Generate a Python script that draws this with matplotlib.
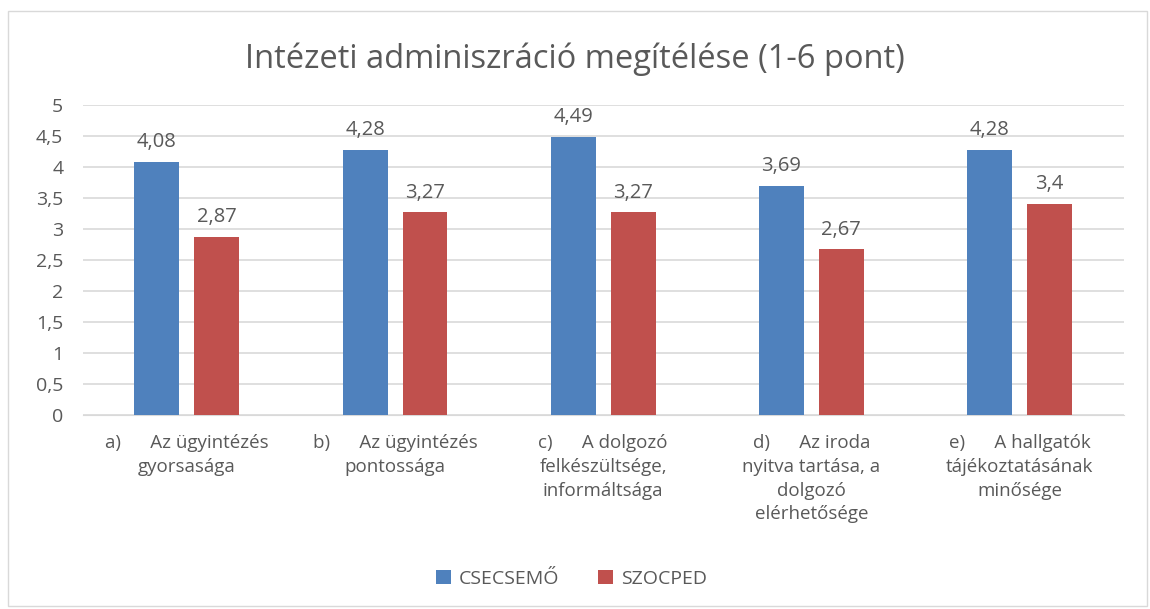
import numpy as np
import matplotlib.pyplot as plt
from matplotlib.patches import Rectangle

categories = [
    "a)      Az ügyintézés\ngyorsasága",
    "b)      Az ügyintézés\npontossága",
    "c)      A dolgozó\nfelkészültsége,\ninformáltsága",
    "d)      Az iroda\nnyitva tartása, a\ndolgozó\nelérhetősége",
    "e)      A hallgatók\ntájékoztatásának\nminősége",
]
csecsemo = [4.08, 4.28, 4.49, 3.69, 4.28]
szocped = [2.87, 3.27, 3.27, 2.67, 3.4]
series_names = ["CSECSEMŐ", "SZOCPED"]

BLUE = "#4F81BD"
RED = "#C0504D"
TEXT = "#595959"

plt.rcParams['font.family'] = ['Open Sans', 'DejaVu Sans']

fig = plt.figure(figsize=(11.5, 6.09), dpi=100)
ax = fig.add_axes([0.072, 0.3186, 0.905, 0.509])

# light border around the whole chart
fig.patches.append(Rectangle((0.007, 0.005), 0.99, 0.977, transform=fig.transFigure,
                             fill=False, edgecolor="#D9D9D9", linewidth=1))

x = np.arange(len(categories))
w = 0.216
off = 0.144
b1 = ax.bar(x - off, csecsemo, w, color=BLUE, label=series_names[0], zorder=3)
b2 = ax.bar(x + off, szocped, w, color=RED, label=series_names[1], zorder=3)

fmt = lambda v: f"{v:g}".replace(".", ",")
for bars, vals in ((b1, csecsemo), (b2, szocped)):
    ax.bar_label(bars, labels=[fmt(v) for v in vals], padding=7,
                 fontsize=14.5, color=TEXT)

ax.set_xlim(-0.5, len(categories) - 0.5)
ax.set_ylim(0, 5)
yt = np.arange(0, 5.01, 0.5)
ax.set_yticks(yt)
ax.set_yticklabels([fmt(v) for v in yt], fontsize=14, color=TEXT)
ax.set_xticks(x)
ax.set_xticklabels(categories, fontsize=13.5, color=TEXT, linespacing=1.4,
                   va="top", ha="center")
ax.tick_params(length=0, pad=14)
ax.tick_params(axis="x", pad=14)

ax.grid(axis="y", color="#D9D9D9", linewidth=1.2, zorder=0)
for s in ["top", "right", "left"]:
    ax.spines[s].set_visible(False)
ax.spines["bottom"].set_color("#D9D9D9")

fig.suptitle("Intézeti adminiszráció megítélése (1-6 pont)", fontsize=23.5,
             color=TEXT, y=0.93)

fig.legend(handles=[b1, b2], loc="center", bbox_to_anchor=(0.497, 0.05), ncol=2,
           frameon=False, fontsize=14, labelcolor=TEXT, handlelength=0.75,
           handleheight=0.75, columnspacing=2.0, handletextpad=0.4)

fig.savefig("out.png", dpi=100)
